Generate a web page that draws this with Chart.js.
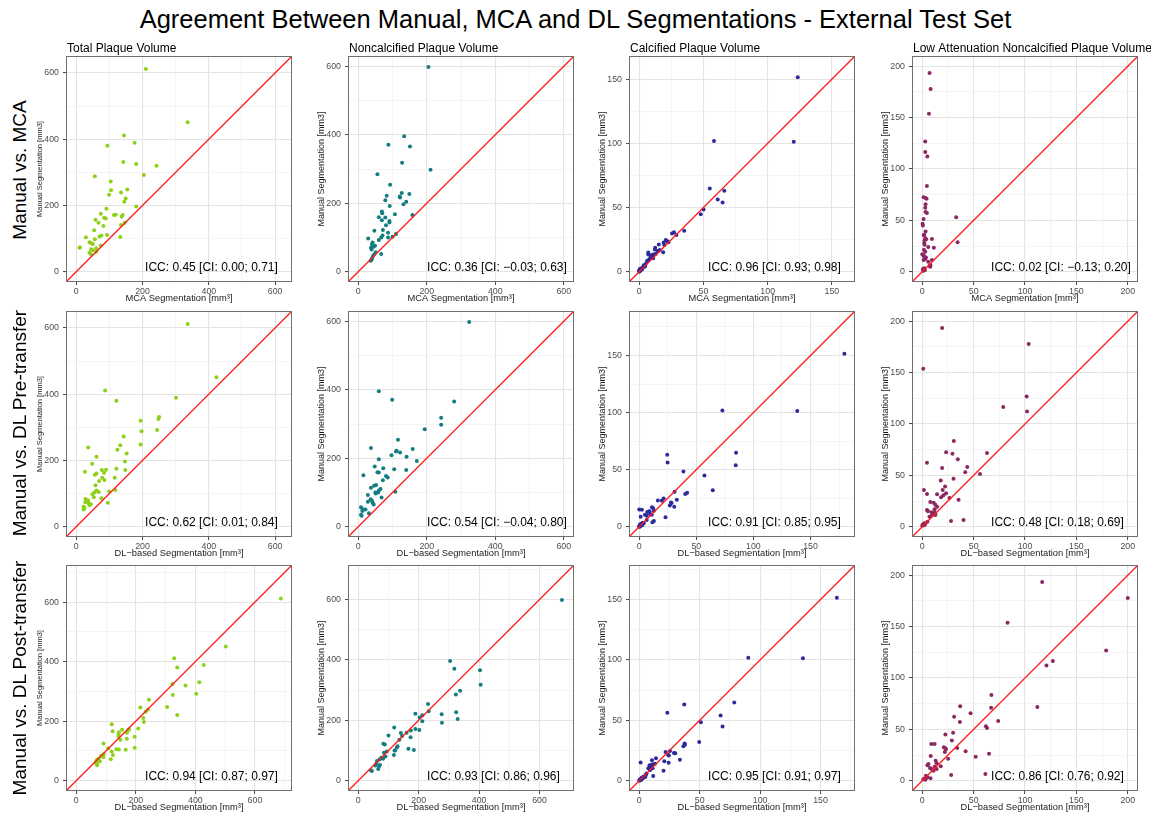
<!DOCTYPE html>
<html>
<head>
<meta charset="utf-8">
<script src="https://cdn.jsdelivr.net/npm/chart.js@4.4.1/dist/chart.umd.min.js"></script>
<style>
  body { margin: 0; background: #fff; width: 1151px; height: 815px; position: relative; overflow: hidden;
         font-family: "Liberation Sans", Arial, Helvetica, sans-serif; }
  #title { position: absolute; left: 0; top: 7px; width: 1151px; text-align: center; font-size: 25.5px; line-height: 1; color: #000; }
  .row-label { position: absolute; left: 19px; font-size: 19px; line-height: 1; white-space: nowrap; color: #000;
               transform: translate(-50%, -50%) rotate(-90deg); }
  canvas.panel { position: absolute; }
</style>
</head>
<body>
<div id="title">Agreement Between Manual, MCA and DL Segmentations - External Test Set</div>

<script>
/*
 * Data: manual values (y) are shared by every row of a column,
 * each row compares them against another method (x).
**/
const plaqueTypes = ['Total Plaque Volume', 'Noncalcified Plaque Volume', 'Calcified Plaque Volume', 'Low Attenuation Noncalcified Plaque Volume']
const comparisons = ['Manual vs. MCA', 'Manual vs. DL Pre-transfer', 'Manual vs. DL Post-transfer']
const xAxisTitles = ['MCA Segmentation [mm³]', 'DL−based Segmentation [mm³]', 'DL−based Segmentation [mm³]']
const yAxisTitle = 'Manual Segmentation [mm3]'

const iccLabels = [
  ['ICC: 0.45 [CI: 0.00; 0.71]', 'ICC: 0.36 [CI: −0.03; 0.63]', 'ICC: 0.96 [CI: 0.93; 0.98]', 'ICC: 0.02 [CI: −0.13; 0.20]'],
  ['ICC: 0.62 [CI: 0.01; 0.84]', 'ICC: 0.54 [CI: −0.04; 0.80]', 'ICC: 0.91 [CI: 0.85; 0.95]', 'ICC: 0.48 [CI: 0.18; 0.69]'],
  ['ICC: 0.94 [CI: 0.87; 0.97]', 'ICC: 0.93 [CI: 0.86; 0.96]', 'ICC: 0.95 [CI: 0.91; 0.97]', 'ICC: 0.86 [CI: 0.76; 0.92]']
]

// axis limit (upper data limit) per row / column, both axes share it
const axisLimits = [
  [620, 600, 160, 200],
  [620, 600, 180, 200],
  [690, 680, 170, 200]
]
const majorTicks = [[0, 200, 400, 600], [0, 200, 400, 600], [0, 50, 100, 150], [0, 50, 100, 150, 200]]
const minorTicks = [[100, 300, 500, 700], [100, 300, 500, 700], [25, 75, 125, 175], [25, 75, 125, 175]]

// Total plaque volume
const manualTotal = [612, 451, 411, 389, 380, 331, 325, 320, 292, 288, 272, 248, 246, 239, 232, 221, 211, 197, 190, 175, 172, 171, 171, 166, 163, 161, 157, 148, 148, 141, 138, 125, 111, 109, 106, 105, 104, 98, 89, 86, 84, 79, 74, 72, 71, 68, 65, 60, 57, 52]
const mcaTotal = [210, 336, 144, 176, 94, 142, 181, 242, 204, 56, 104, 154, 105, 135, 99, 149, 145, 181, 91, 74, 119, 114, 140, 137, 84, 89, 58, 67, 146, 135, 82, 54, 93, 76, 70, 133, 29, 56, 40, 45, 50, 74, 11, 10, 60, 45, 50, 60, 40, 45]
const dlPreTotal = [336, 423, 87, 301, 121, 250, 248, 194, 244, 197, 143, 194, 133, 36, 124, 152, 61, 147, 48, 121, 90, 77, 148, 26, 84, 61, 56, 78, 116, 85, 69, 58, 118, 61, 99, 68, 55, 49, 53, 76, 28, 36, 27, 95, 37, 44, 40, 22, 25, 22]
const dlPostTotal = [687, 502, 329, 428, 339, 413, 323, 367, 403, 324, 244, 305, 215, 241, 233, 339, 225, 227, 119, 208, 177, 154, 176, 122, 143, 170, 142, 196, 142, 170, 148, 91, 196, 107, 135, 143, 166, 119, 92, 123, 83, 91, 75, 116, 71, 68, 79, 64, 70, 70]

// Noncalcified plaque volume
const manualNonCalc = [598, 396, 371, 366, 318, 298, 285, 254, 230, 227, 222, 220, 217, 209, 204, 197, 192, 176, 171, 168, 166, 159, 158, 150, 148, 144, 136, 122, 120, 114, 110, 106, 102, 100, 100, 97, 93, 85, 80, 76, 73, 70, 65, 57, 52, 50, 46, 39, 35, 32]
const mcaNonCalc = [205, 134, 88, 151, 128, 211, 56, 93, 127, 149, 83, 121, 122, 79, 140, 132, 92, 69, 70, 107, 158, 60, 79, 69, 91, 91, 81, 72, 47, 87, 110, 71, 100, 67, 87, 29, 60, 42, 40, 49, 45, 37, 39, 51, 67, 46, 43, 40, 39, 36]
const dlPreNonCalc = [324, 60, 99, 280, 242, 242, 194, 116, 37, 159, 112, 110, 122, 97, 141, 60, 171, 48, 73, 105, 140, 56, 60, 15, 81, 86, 72, 52, 46, 37, 65, 60, 108, 50, 58, 51, 28, 68, 36, 40, 28, 42, 45, 8, 12, 21, 12, 31, 8, 10]
const dlPostNonCalc = [674, 304, 318, 403, 405, 337, 323, 231, 233, 324, 189, 276, 212, 203, 329, 212, 277, 119, 189, 202, 174, 160, 141, 100, 145, 173, 136, 83, 88, 130, 128, 166, 184, 120, 122, 94, 85, 118, 90, 76, 82, 70, 62, 60, 72, 56, 68, 66, 42, 45]

// Calcified plaque volume
const manualCalc = [151.5, 101.8, 101.3, 64.8, 63.0, 56.2, 53.9, 48.4, 44.8, 32, 30.7, 29.7, 28.6, 24.7, 23.7, 22.9, 22.7, 21.3, 20.8, 18.7, 17.4, 17.0, 16.1, 15.1, 14.9, 14, 13.5, 13.4, 12.9, 11.1, 10.4, 10.4, 9.6, 8.8, 8.3, 6, 5, 4, 3.5, 3, 2.5, 2, 2, 1.5, 1.2, 1, 0.8, 0.5, 0.3, 0]
const mcaCalc = [123.4, 58.2, 120.3, 54.9, 66.2, 61.1, 64.9, 50, 47.9, 35, 27, 25.5, 28.9, 20.6, 21.9, 22.7, 19, 15.2, 19.5, 12.4, 12.1, 16, 14.4, 18.6, 7, 12.9, 7, 10.8, 8.8, 10.3, 8.5, 10.8, 7.7, 7, 6, 5, 3.5, 4.5, 3, 2.5, 1, 2.2, 0.5, 1.5, 0, 1, 0.4, 0, 0.2, 0]
const dlPreCalc = [179.7, 72.8, 138.4, 84.8, 24.5, 24.8, 84.5, 38.7, 57.1, 64.4, 30.9, 41.9, 40.2, 21.3, 32.9, 16.3, 19.8, 27.7, 28.3, 26.8, 30.6, 11.1, 12.2, 0, 2.3, 12.8, 8.7, 9, 7, 9.5, 11, 5, 6.5, 1.2, 23, 6.5, 12.8, 11.5, 3, 4, 1.5, 2, 1, 0.5, 2.5, 0.3, 1, 0, 0.5, 0.2]
const dlPostCalc = [163.5, 90.2, 135.4, 78.6, 37.2, 23.2, 67.3, 51, 68.9, 49.6, 37.5, 37.8, 36.5, 25.4, 21.8, 28.7, 29.8, 24, 24.5, 13.8, 33.6, 10.5, 20.7, 1.1, 24.3, 13, 11.5, 10.5, 8.5, 9.5, 11, 7.5, 8.5, 9, 20.1, 6, 5.5, 11.5, 3.5, 5, 2, 3, 2.5, 1.5, 1, 0.5, 1.8, 0.2, 0.8, 0]

// Low attenuation noncalcified plaque volume
const manualLow = [193.5, 177.9, 153.8, 126.7, 116.5, 112.2, 83.4, 72.4, 71.8, 71.0, 65.7, 62.4, 58.2, 57.2, 53.1, 51.4, 46.7, 44.9, 39.1, 35.8, 35.7, 32.6, 31.9, 31.6, 30.6, 28.7, 28.0, 26.3, 24, 23.3, 21.3, 19.5, 17, 16.3, 15, 14, 13.7, 12.4, 11.4, 11.4, 9.8, 6.5, 5.5, 4.8, 3.5, 3, 2.5, 2, 1.5, 1]
const mcaLow = [7.1, 8.1, 6.5, 2.9, 2.9, 4.9, 4.5, 1.3, 3.2, 4.2, 3.2, 2.9, 3.2, 4.5, 33, 1.3, 0.3, 0.6, 3.2, 1.3, 2, 2.9, 9.4, 3.9, 2.3, 34.4, 1.9, 2.3, 5.8, 11.3, 1.6, 2.9, 0, 1, 1.6, 3.2, 3.5, 2.9, 1.3, 9.4, 5.8, 8, 7.1, 7.8, 2, 1, 1.5, 0.5, 2.5, 1]
const dlPreLow = [19.3, 103.6, 1, 101.6, 78.8, 102, 30.7, 23.2, 63, 29.4, 34.6, 4.6, 43.8, 19.3, 41.8, 56.2, 30.4, 18, 22.2, 1.6, 19.9, 23.2, 4.6, 14.4, 20.6, 18.3, 26.5, 35.3, 7.8, 11.1, 12.7, 14.4, 12, 4.6, 5.5, 9, 12, 12.7, 9.5, 12.7, 7, 40.2, 28, 5, 2, 3, 1, 0.5, 2, 0]
const dlPostLow = [116.7, 200, 83, 179, 127.1, 120.9, 67.3, 36.9, 112, 67, 47, 31, 73.9, 36.6, 62, 63, 30, 22.5, 28.8, 8.8, 12, 21, 34, 22.5, 23, 42.2, 22, 65, 8.2, 52, 25.2, 13, 14, 6, 5, 18, 12, 7.5, 9, 14, 11, 61.4, 28.1, 3.5, 5, 4, 8, 2, 1, 3]

const manualSeries = [manualTotal, manualNonCalc, manualCalc, manualLow]
const methodSeries = [
  [mcaTotal, mcaNonCalc, mcaCalc, mcaLow],
  [dlPreTotal, dlPreNonCalc, dlPreCalc, dlPreLow],
  [dlPostTotal, dlPostNonCalc, dlPostCalc, dlPostLow]
]

/*
 * Styles and layout
**/
const chartFont = '"Liberation Sans", Arial, Helvetica, sans-serif'
const pointColors = ['#8fd019', '#137d80', '#2b2b9c', '#8c2762']
const yTitleSizes = [7.5, 9, 9, 9]
const plotLefts = [66, 348, 629, 912]
const plotTops = [56, 311, 565]
const rowCenters = [170, 423, 678]
const PLOT = 226, LEFT = 60, TOP = 22, RIGHT = 18, BOTTOM = 28

Chart.defaults.font.family = chartFont

// border box, panel title and ICC annotation
const panelDecor = {
  id: 'panelDecor',
  afterDatasetsDraw(chart, args, opts) {
    const { ctx, chartArea: a } = chart
    ctx.save()
    ctx.strokeStyle = '#707070'
    ctx.lineWidth = 1
    ctx.strokeRect(a.left + 0.5, a.top + 0.5, a.width - 1, a.height - 1)
    ctx.fillStyle = '#000'
    ctx.font = `12px ${chartFont}`
    ctx.textAlign = 'left'
    ctx.textBaseline = 'middle'
    ctx.fillText(opts.icc, a.left + a.width * 0.35, a.bottom - a.height * 0.065)
    if (opts.title) {
      ctx.textBaseline = 'alphabetic'
      ctx.fillText(opts.title, a.left + 1, a.top - 4)
    }
    ctx.restore()
  }
}

function axisOptions(col, limit, isX, row) {
  const lo = -0.05 * limit
  const hi = 1.05 * limit
  const majors = majorTicks[col]
  const all = majors.concat(minorTicks[col]).filter(v => v >= lo && v <= hi).sort((a, b) => a - b)
  const isMajor = ctx => ctx.tick && majors.includes(ctx.tick.value)
  return {
    type: 'linear',
    min: lo,
    max: hi,
    afterBuildTicks: scale => { scale.ticks = all.map(v => ({ value: v })) },
    afterFit: scale => { if (isX) scale.height = BOTTOM; else scale.width = LEFT },
    border: { display: false },
    grid: {
      color: ctx => isMajor(ctx) ? '#e4e4e4' : '#efefef',
      lineWidth: ctx => isMajor(ctx) ? 1.1 : 0.7,
      tickColor: ctx => isMajor(ctx) ? '#444' : 'rgba(0,0,0,0)',
      tickWidth: 1,
      tickLength: 3,
      drawTicks: true
    },
    ticks: {
      autoSkip: false,
      maxRotation: 0,
      padding: isX ? 1 : 4,
      color: '#4d4d4d',
      font: { size: 8.8 },
      callback: value => majors.includes(value) ? String(value) : ''
    },
    title: isX
      ? { display: true, text: xAxisTitles[row], color: '#1a1a1a', font: { size: 9.3 }, padding: { top: 0, bottom: 5.5 } }
      : { display: true, text: yAxisTitle, color: '#1a1a1a', font: { size: yTitleSizes[col] }, padding: { top: 34 - yTitleSizes[col] * 0.6, bottom: 0 } }
  }
}

function renderPanel(row, col) {
  const canvas = document.createElement('canvas')
  canvas.className = 'panel'
  canvas.width = LEFT + PLOT + RIGHT
  canvas.height = TOP + PLOT + BOTTOM
  canvas.style.left = (plotLefts[col] - LEFT) + 'px'
  canvas.style.top = (plotTops[row] - TOP) + 'px'
  document.body.appendChild(canvas)

  const limit = axisLimits[row][col]
  const xs = methodSeries[row][col]
  const ys = manualSeries[col]
  const lo = -0.05 * limit, hi = 1.05 * limit

  return new Chart(canvas, {
    type: 'scatter',
    data: {
      datasets: [
        {
          // identity line, drawn on top of the points
          data: [{ x: lo, y: lo }, { x: hi, y: hi }],
          showLine: true,
          borderColor: '#ff1a1a',
          borderWidth: 1.3,
          pointRadius: 0
        },
        {
          data: xs.map((x, i) => ({ x: x, y: ys[i] })),
          pointRadius: 2,
          pointBorderWidth: 0,
          backgroundColor: pointColors[col]
        }
      ]
    },
    options: {
      responsive: false,
      animation: false,
      events: [],
      layout: { padding: { top: TOP, right: RIGHT, bottom: 0, left: 0 } },
      plugins: {
        legend: { display: false },
        tooltip: { enabled: false },
        panelDecor: { icc: iccLabels[row][col], title: row === 0 ? plaqueTypes[col] : null }
      },
      scales: {
        x: axisOptions(col, limit, true, row),
        y: axisOptions(col, limit, false, row)
      }
    },
    plugins: [panelDecor]
  })
}

comparisons.forEach((label, row) => {
  const div = document.createElement('div')
  div.className = 'row-label'
  div.style.top = rowCenters[row] + 'px'
  div.textContent = label
  document.body.appendChild(div)
  plaqueTypes.forEach((type, col) => renderPanel(row, col))
})
</script>
</body>
</html>
